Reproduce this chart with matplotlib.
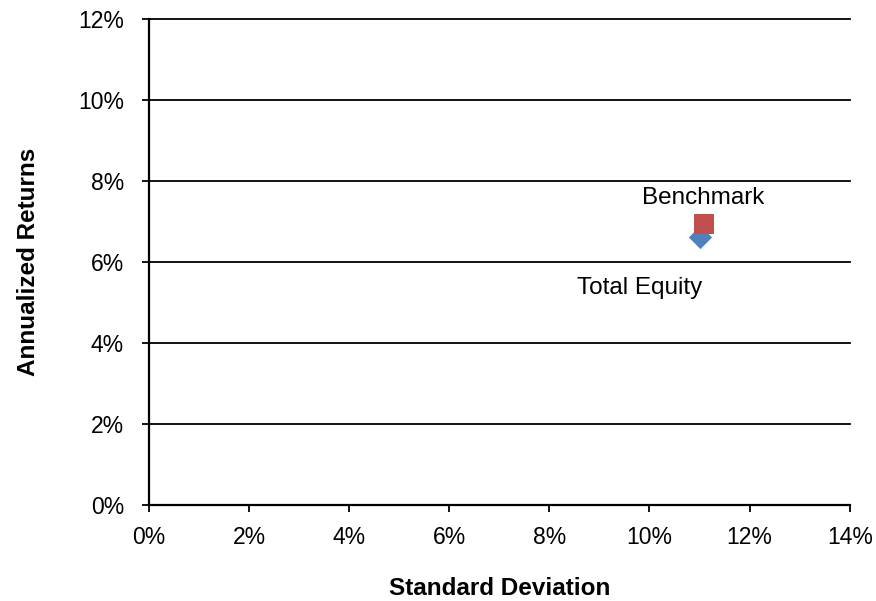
import matplotlib
matplotlib.use("Agg")
import matplotlib.pyplot as plt
from matplotlib.ticker import PercentFormatter

plt.rcParams['font.family'] = ['Liberation Sans', 'DejaVu Sans']

names = ["Total Equity", "Benchmark"]
std_dev = [11.0, 11.08]
returns = [6.62, 6.94]
markers = ["D", "s"]
colors = ["#4F81BD", "#C0504D"]
sizes = [140, 200]

fig = plt.figure(figsize=(8.76, 6.01), dpi=100)
ax = fig.add_axes([0.170, 0.160, 0.800, 0.808])

for x, y, m, c, s in zip(std_dev, returns, markers, colors, sizes):
    ax.scatter([x], [y], marker=m, color=c, s=s, zorder=3, linewidths=0)

ax.annotate(names[1], (std_dev[1], returns[1]), xytext=(0, 19), textcoords="offset points",
            ha="center", va="center", fontsize=17.5)
ax.annotate(names[0], (std_dev[0], returns[0]), xytext=(-43, -37), textcoords="offset points",
            ha="center", va="center", fontsize=17.5)

ax.set_xlim(0, 14)
ax.set_ylim(0, 12)
ax.set_xticks(range(0, 15, 2))
ax.set_yticks(range(0, 13, 2))
ax.xaxis.set_major_formatter(PercentFormatter(decimals=0))
ax.yaxis.set_major_formatter(PercentFormatter(decimals=0))
ax.grid(axis="y", color="black", linewidth=1.3)
for gl in ax.yaxis.get_gridlines():
    gl.set_clip_on(False)
ax.set_axisbelow(True)
for sp in ["top", "right"]:
    ax.spines[sp].set_visible(False)
for sp in ["left", "bottom"]:
    ax.spines[sp].set_linewidth(1.6)
ax.tick_params(direction="out", length=5, width=1.3, labelsize=16.5)
ax.tick_params(axis="y", pad=13)
ax.tick_params(axis="x", pad=10)

ax.set_xlabel("Standard Deviation", fontsize=17.5, fontweight="bold")
ax.set_ylabel("Annualized Returns", fontsize=17.5, fontweight="bold")
ax.xaxis.set_label_coords(0.5, -0.148)
ax.yaxis.set_label_coords(-0.156, 0.5)

fig.savefig("out.png", dpi=100)
